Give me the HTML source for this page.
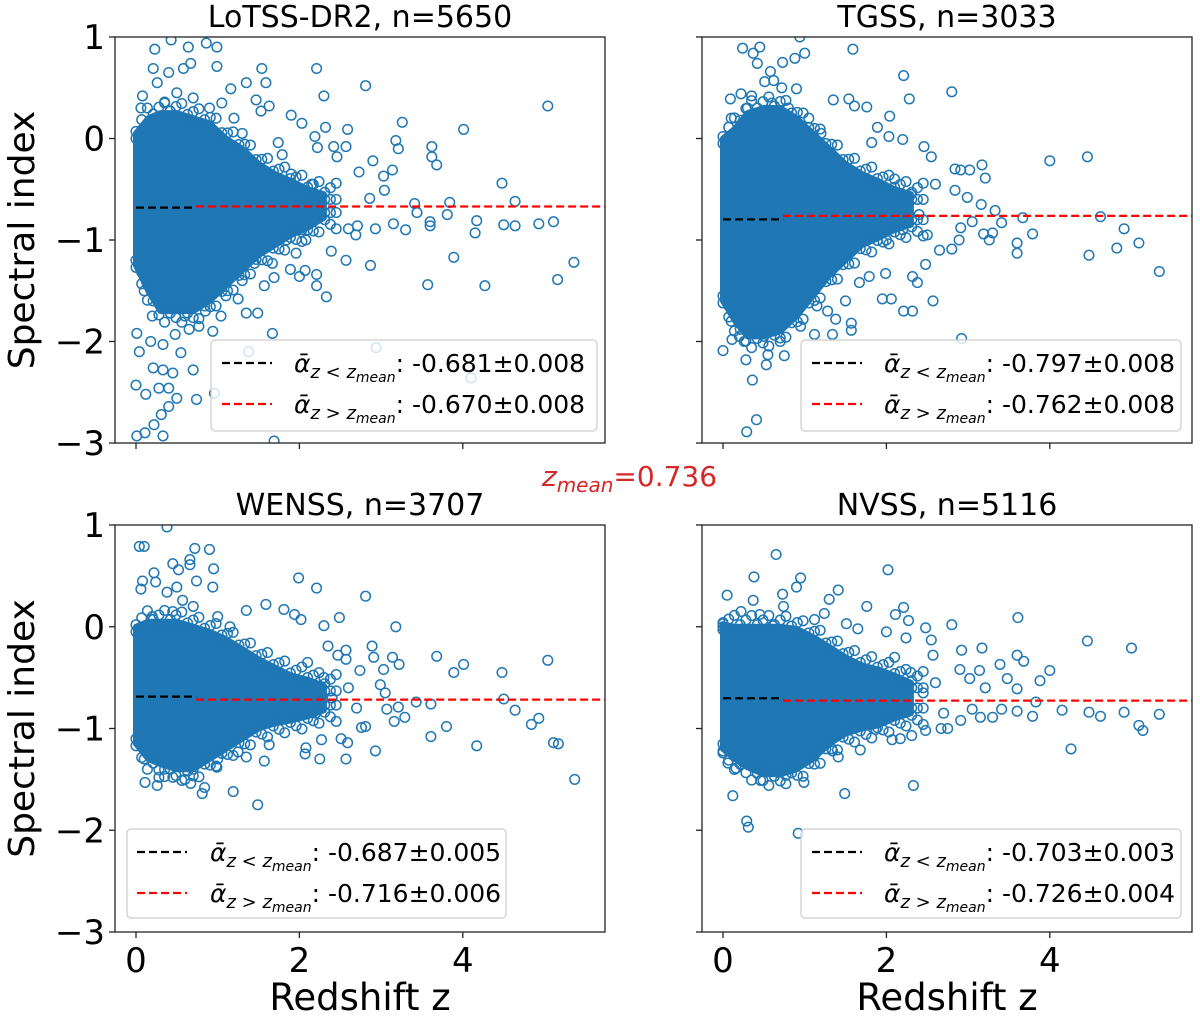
<!DOCTYPE html>
<html><head><meta charset="utf-8">
<style>
html,body{margin:0;padding:0;background:#fff;}
svg{display:block;font-family:"DejaVu Sans","Liberation Sans",sans-serif;}
</style></head>
<body>
<svg id="fig" width="1200" height="1020" viewBox="0 0 1200 1020" xmlns="http://www.w3.org/2000/svg">
<text x="542" y="486" fill="#d62728" font-size="28"><tspan font-style="italic">z</tspan><tspan font-style="italic" font-size="20" dy="6">mean</tspan><tspan dy="-6">=0.736</tspan></text>
</svg>
<script>
const panelTitles = ["LoTSS-DR2, n=5650","TGSS, n=3033","WENSS, n=3707","NVSS, n=5116"];
const yTickVals = [1,0,-1,-2,-3];
const yTickLabels = ["1","0","\u22121","\u22122","\u22123"];
const xTickVals = [0,2,4];
const xTickLabels = ["0","2","4"];
const zMean = 0.736;
const meanLow = [-0.681,-0.797,-0.687,-0.703];
const meanHigh = [-0.670,-0.762,-0.716,-0.726];
const legendLow = ["-0.681\u00b10.008","-0.797\u00b10.008","-0.687\u00b10.005","-0.703\u00b10.003"];
const legendHigh = ["-0.670\u00b10.008","-0.762\u00b10.008","-0.716\u00b10.006","-0.726\u00b10.004"];

const coreZ = [0,0.15,0.3,0.5,0.7,0.9,1.1,1.3,1.5,1.7,1.9,2.1,2.3];
const coreLo = [
 [-1.25,-1.5,-1.7,-1.7,-1.7,-1.6,-1.45,-1.3,-1.15,-1.05,-0.95,-0.88,-0.78],
 [-1.6,-1.8,-1.95,-1.95,-1.9,-1.75,-1.55,-1.35,-1.2,-1.05,-0.98,-0.9,-0.85],
 [-1.15,-1.3,-1.35,-1.4,-1.4,-1.3,-1.2,-1.1,-1.0,-0.95,-0.92,-0.88,-0.82],
 [-1.2,-1.3,-1.38,-1.45,-1.45,-1.4,-1.3,-1.15,-1.05,-1.0,-0.97,-0.9,-0.85]];
const coreHi = [
 [0.05,0.2,0.25,0.25,0.2,0.15,0.0,-0.1,-0.25,-0.35,-0.42,-0.5,-0.55],
 [0.0,0.1,0.25,0.3,0.3,0.2,0.05,-0.1,-0.25,-0.35,-0.42,-0.5,-0.55],
 [0.0,0.05,0.05,0.05,0.0,-0.05,-0.12,-0.22,-0.32,-0.4,-0.48,-0.52,-0.58],
 [0.02,0.0,0.0,0.0,0.0,-0.02,-0.1,-0.2,-0.3,-0.38,-0.42,-0.48,-0.55]];

const tlPoints = [[5.04,0.32],[4.01,0.09],[3.26,0.16],[3.18,-0.02],[3.21,-0.10],[3.62,-0.08],[3.62,-0.18],[3.68,-0.26],[4.48,-0.44],[4.64,-0.62],[3.84,-0.63],[3.81,-0.75],[3.6,-0.82],[3.6,-0.86],[3.3,-0.9],[4.17,-0.81],[4.15,-0.93],[4.5,-0.85],[4.64,-0.86],[4.93,-0.84],[5.11,-0.82],[3.89,-1.17],[5.36,-1.22],[5.16,-1.39],[4.27,-1.45],[3.57,-1.44],[4.1,-2.36],[2.94,-2.06],[2.87,-1.25],[2.57,-1.2],[2.39,-1.11],[2.33,-1.56],[2.21,-1.45],[2.21,-1.34],[2.07,-1.30],[2.0,-1.36],[1.67,-1.92],[1.38,-2.1],[1.69,-2.98],[0.96,-2.51],[2.81,0.52],[2.21,0.69],[2.3,0.42],[1.9,0.23],[2.03,0.15],[2.32,0.11],[2.59,0.09],[2.19,0.02],[2.22,-0.09],[2.42,-0.08],[2.57,-0.08],[2.46,-0.18],[2.9,-0.22],[2.73,-0.33],[3.14,-0.31],[3.03,-0.37],[3.04,-0.51],[2.86,-0.59],[3.41,-0.64],[3.44,-0.73],[3.15,-0.84],[2.93,-0.89],[2.71,-0.86],[2.6,-0.89],[2.69,-0.95],[1.54,0.69],[1.59,0.55],[1.35,0.55],[1.16,0.49],[1.47,0.38],[1.63,0.32],[1.53,0.27],[1.74,-0.04],[1.79,-0.16],[0.99,0.71],[0.99,0.9],[0.86,0.94],[0.64,0.9],[0.43,0.97],[0.23,0.88],[0.21,0.69],[0.67,0.74],[0.58,0.69],[0.4,0.65],[0.26,0.55],[0.08,0.42],[0.06,0.3],[0,-2.43],[0.01,-2.93],[0.11,-2.9],[0.33,-2.93],[0.22,-2.82],[0.31,-2.72],[0.4,-2.64],[0.5,-2.56],[0.74,-2.57],[0.12,-2.52],[0.28,-2.46],[0.4,-2.46],[0.21,-2.26],[0.33,-2.28],[0.45,-2.31],[0.7,-2.28],[0.55,-2.11],[0.01,-1.92],[0.04,-2.1],[0.18,-2.0],[0.33,-2.03],[0.48,-1.93],[0.65,-1.88],[0.77,-1.85],[0.94,-1.9],[1.04,-1.75],[1.35,-1.72],[1.49,-1.72],[1.25,-1.58],[1.57,-1.45],[1.69,-1.37],[1.89,-1.29],[1.96,-1.13],[1.67,-1.23],[1.45,-1.23],[1.84,-1.0],[2.08,-1.0],[2.03,-0.9],[1.9,-0.35],[2.0,-0.55],[2.1,-0.75],[1.8,-0.8],[2.15,-0.45],[0.35,0.35],[0.5,0.45],[0.7,0.4],[0.9,0.3],[1.05,0.35],[1.2,0.2],[1.3,0.05],[0.1,-1.5],[0.2,-1.75],[0.6,-1.75],[0.85,-1.7],[1.1,-1.55],[1.3,-1.4]];

const trPoints = [[4.0,-0.22],[4.46,-0.18],[4.62,-0.77],[4.91,-0.89],[5.09,-1.03],[4.82,-1.08],[4.48,-1.15],[5.34,-1.31],[3.79,-0.94],[3.67,-0.78],[3.6,-1.03],[3.6,-1.13],[3.41,-0.83],[3.33,-0.71],[3.3,-0.93],[3.26,-1.0],[3.19,-0.94],[3.21,-0.39],[3.17,-0.26],[3.02,-0.31],[2.91,-0.31],[2.84,-0.3],[2.84,-0.51],[2.99,-0.58],[3.16,-0.65],[3.05,-0.82],[2.91,-0.88],[2.89,-1.0],[2.8,-1.09],[2.65,-1.1],[2.92,-1.97],[2.57,-1.6],[2.32,-1.7],[2.21,-1.7],[2.06,-1.58],[1.95,-1.58],[2.48,-1.24],[2.8,0.46],[2.21,0.62],[2.28,0.39],[2.04,0.22],[1.76,0.31],[1.61,0.32],[1.54,0.39],[1.35,0.38],[1.89,0.11],[2.03,0.02],[2.2,-0.01],[2.46,-0.08],[2.55,-0.18],[1.82,-0.04],[1.59,0.88],[0.94,1.0],[1.0,0.84],[0.88,0.79],[0.73,0.75],[0.45,0.9],[0.24,0.89],[0.37,0.84],[0.42,0.74],[0.58,0.66],[0.62,0.57],[0.51,0.56],[0.72,0.5],[0.9,0.49],[0.09,0.39],[0.22,0.44],[0.35,0.42],[0,-2.09],[0.11,-1.98],[0.26,-2.0],[0.28,-2.18],[0.36,-2.38],[0.41,-2.77],[0.29,-2.89],[0.53,-2.23],[0.75,-2.14],[0.55,-2.13],[1.12,-1.93],[1.34,-1.93],[1.57,-1.89],[1.57,-1.82],[1.5,-1.6],[1.38,-1.78],[1.28,-1.7],[1.67,-1.42],[1.79,-1.36],[1.99,-1.33],[2.32,-1.36],[2.38,-1.42],[2.1,-0.4],[2.3,-0.55],[2.4,-0.75],[2.2,-0.9],[2.0,-1.0],[2.6,-0.45],[2.5,-0.95],[0.1,0.2],[0.3,0.3],[0.6,0.35],[0.8,0.3],[1.05,0.2],[1.2,0.05],[0.1,-1.8],[0.2,-1.95],[0.5,-1.95],[0.7,-2.0],[0.95,-1.85],[1.15,-1.65]];

const blPoints = [[0.38,0.98],[0.04,0.79],[0.1,0.79],[0.08,0.45],[0.06,0.37],[0.22,0.53],[0.24,0.44],[0.45,0.62],[0.52,0.56],[0.66,0.66],[0.66,0.61],[0.72,0.77],[0.9,0.76],[0.95,0.57],[0.94,0.39],[0.74,0.45],[0.5,0.39],[0.38,0.34],[0.57,0.26],[1.99,0.48],[2.21,0.38],[2.81,0.3],[2.49,0.09],[2.3,0.01],[3.18,0.0],[2.02,0.07],[1.94,0.12],[1.81,0.17],[1.59,0.22],[1.35,0.16],[3.68,-0.29],[4.01,-0.37],[3.89,-0.45],[4.48,-0.45],[5.04,-0.33],[4.5,-0.71],[4.64,-0.82],[4.93,-0.9],[4.84,-0.96],[3.61,-0.76],[3.43,-0.74],[3.8,-0.98],[3.61,-1.08],[4.17,-1.17],[5.11,-1.14],[5.17,-1.15],[5.37,-1.5],[3.29,-0.89],[3.16,-0.93],[3.21,-0.79],[3.07,-0.81],[2.93,-1.22],[2.76,-0.99],[2.81,-0.98],[2.57,-1.3],[2.59,-1.14],[2.51,-1.1],[2.74,-0.43],[2.89,-0.19],[2.91,-0.3],[3.03,-0.42],[3.14,-0.3],[3.22,-0.37],[2.99,-0.57],[3.05,-0.65],[2.57,-0.23],[2.57,-0.32],[2.47,-0.28],[2.35,-0.19],[2.25,-1.3],[2.07,-1.25],[2.27,-1.11],[2.08,-1.19],[1.49,-1.75],[1.19,-1.62],[0.81,-1.64],[0.84,-1.58],[0.67,-1.54],[0.6,-1.5],[0.26,-1.56],[0.11,-1.53],[0.28,-1.48],[0.45,-1.48],[0.99,-1.38],[1.57,-1.32],[1.35,-1.28],[1.25,-1.23],[1.63,-1.16],[2.1,-0.35],[2.3,-0.5],[2.4,-0.7],[2.2,-0.85],[2.6,-0.6],[2.7,-0.8],[0.2,0.1],[0.45,0.15],[0.7,0.2],[1.0,0.1],[1.15,0.0],[0.1,-1.3],[0.35,-1.4],[0.7,-1.4],[1.0,-1.3]];

const brPoints = [[0.65,0.71],[2.02,0.56],[0.38,0.49],[0.05,0.31],[0.37,0.26],[0.73,0.32],[0.74,0.2],[0.9,0.39],[0.95,0.48],[1.3,0.27],[1.41,0.36],[1.76,0.2],[2.21,0.19],[2.11,0.12],[2.27,0.06],[2.48,-0.01],[2.8,0.02],[3.61,0.09],[4.46,-0.14],[5.0,-0.21],[2.92,-0.23],[3.17,-0.21],[2.57,-0.28],[2.55,-0.13],[3.39,-0.37],[3.6,-0.28],[3.68,-0.34],[4.0,-0.43],[3.88,-0.53],[3.48,-0.51],[3.14,-0.43],[3.02,-0.51],[2.9,-0.42],[3.21,-0.6],[3.6,-0.61],[3.83,-0.74],[3.41,-0.81],[3.6,-0.83],[4.15,-0.82],[4.48,-0.84],[4.62,-0.88],[4.91,-0.84],[5.34,-0.86],[5.09,-0.97],[5.14,-1.02],[4.26,-1.2],[3.79,-0.88],[3.15,-0.89],[3.3,-0.89],[3.05,-0.81],[2.91,-0.92],[2.75,-1.0],[2.67,-1.0],[2.48,-1.02],[2.33,-1.56],[1.49,-1.64],[1.68,-1.21],[2.07,-1.11],[2.17,-1.1],[2.31,-1.07],[1.87,-1.01],[1.41,-1.28],[1.34,-1.22],[1.11,-1.27],[0.99,-1.53],[0.92,-2.03],[0.46,-1.51],[0.12,-1.66],[0.29,-1.91],[0.31,-1.97],[0.0,-1.24],[0.06,-1.34],[0.16,-1.39],[0.51,-1.37],[0.77,-1.46],[0.68,-1.43],[0.0,0.03],[0,0],[0.22,0.15],[0.45,0.12],[0.61,0.01],[1.12,0.07],[1.24,0.13],[1.65,-0.02],[1.51,0.03],[2.0,-0.05],[2.24,-0.11],[2.1,-0.3],[2.3,-0.45],[2.45,-0.65],[2.2,-0.8],[2.0,-0.9],[2.6,-0.55],[2.7,-0.85]];

const allPoints = [tlPoints, trPoints, blPoints, brPoints];

const NS = "http://www.w3.org/2000/svg";
const svg = document.getElementById('fig');
const BLUE = "#1f77b4";
function mk(tag, attrs, parent){ const e=document.createElementNS(NS,tag); for(const k in attrs) e.setAttribute(k,attrs[k]); (parent||svg).appendChild(e); return e; }
function interp(arrZ, arrV, z){
  if(z<=arrZ[0]) return arrV[0];
  for(let k=1;k<arrZ.length;k++){ if(z<=arrZ[k]){ const t=(z-arrZ[k-1])/(arrZ[k]-arrZ[k-1]); return arrV[k-1]+t*(arrV[k]-arrV[k-1]); } }
  return arrV[arrV.length-1];
}

const panels = [
 {x0:136, top:37, bot:443, showY:true, showX:false, leg:{x:211,y:340,w:386,h:91,lx:222,tx:294}},
 {x0:723, top:37, bot:443, showY:false, showX:false, leg:{x:801,y:340,w:380,h:91,lx:812,tx:884}},
 {x0:136, top:525, bot:932, showY:true, showX:true, leg:{x:127,y:829,w:379,h:89,lx:137,tx:210}},
 {x0:723, top:525, bot:932, showY:false, showX:true, leg:{x:801,y:829,w:380,h:89,lx:812,tx:884}}
];
const names = ["lotss","tgss","wenss","nvss"];

panels.forEach((p,i)=>{
  const pxPerZ = 81.7;
  const left = p.x0-21, right = p.x0+469;
  const xs = z => p.x0 + z*pxPerZ;
  const ys = a => p.top + (1-a)*(p.bot-p.top)/4;
  const g = mk('g',{});
  
  
  const clipId='clip'+i;
  const cp = mk('clipPath',{id:clipId},g);
  mk('rect',{x:left,y:p.top,width:right-left,height:p.bot-p.top},cp);
  const plot = mk('g',{'clip-path':'url(#'+clipId+')'},g);
  
  
  let d='';
  coreZ.forEach((z,k)=>{ d += (k?'L':'M')+xs(z).toFixed(1)+','+ys(coreHi[i][k]).toFixed(1); });
  for(let k=coreZ.length-1;k>=0;k--) d += 'L'+xs(coreZ[k]).toFixed(1)+','+ys(coreLo[i][k]).toFixed(1);
  d+='Z';
  const core = mk('path',{d:d,fill:BLUE,stroke:BLUE,'stroke-width':6,'stroke-linejoin':'round'},plot);
  
  
  const zEnd = coreZ[coreZ.length-1];
  let n=0;
  for(let z=0; z<=zEnd+0.2; z+=0.07){
    const lo = interp(coreZ, coreLo[i], z), hi = interp(coreZ, coreHi[i], z);
    const off = (n%3)*0.045;
    [[hi+0.02+off],[lo-0.02-off],[hi-0.05],[lo+0.05]].forEach(v=>{
      const c = mk('circle',{cx:xs(z).toFixed(1),cy:ys(v[0]).toFixed(1),r:4.8,fill:'none',stroke:BLUE,'stroke-width':1.5},plot);
      
      
    });
    n++;
  }
  allPoints[i].forEach(pt=>{
    const c = mk('circle',{cx:xs(pt[0]).toFixed(1),cy:ys(pt[1]).toFixed(1),r:4.8,fill:'none',stroke:BLUE,'stroke-width':1.5},plot);
    
    
  });
  const l1 = mk('line',{x1:xs(0),x2:xs(zMean),y1:ys(meanLow[i]),y2:ys(meanLow[i]),stroke:'#000','stroke-width':2.2,'stroke-dasharray':'8,4'},plot);
  
  
  const l2 = mk('line',{x1:xs(zMean),x2:right,y1:ys(meanHigh[i]),y2:ys(meanHigh[i]),stroke:'#ff0000','stroke-width':2.2,'stroke-dasharray':'8,4'},plot);
  
  
  const fr = mk('rect',{x:left,y:p.top,width:right-left,height:p.bot-p.top,fill:'none',stroke:'#222','stroke-width':1.3},g);
  
  
  yTickVals.forEach((v,k)=>{
    mk('line',{x1:left-6,x2:left,y1:ys(v),y2:ys(v),stroke:'#222','stroke-width':1.3},g);
    if(p.showY){
      const t = mk('text',{x:left-10,y:ys(v)+12,'text-anchor':'end','font-size':34,fill:'#000'},g);
      t.textContent = yTickLabels[k];
      
      
    }
  });
  xTickVals.forEach((v,k)=>{
    mk('line',{x1:xs(v),x2:xs(v),y1:p.bot,y2:p.bot+6,stroke:'#222','stroke-width':1.3},g);
    if(p.showX){
      const t = mk('text',{x:xs(v),y:p.bot+40,'text-anchor':'middle','font-size':34,fill:'#000'},g);
      t.textContent = xTickLabels[k];
      
      
    }
  });
  const cx = (left+right)/2;
  const tt = mk('text',{x:cx,y:p.top-10,'text-anchor':'middle','font-size':30,fill:'#000'},g);
  tt.textContent = panelTitles[i];
  
  
  if(p.showY){
    const yl = mk('text',{x:0,y:0,'text-anchor':'middle','font-size':36,fill:'#000',transform:'translate(34,'+((p.top+p.bot)/2)+') rotate(-90)'},g);
    yl.textContent='Spectral index';
    
    
  }
  if(p.showX){
    const xl = mk('text',{x:cx,y:1010,'text-anchor':'middle','font-size':37,fill:'#000'},g);
    xl.textContent='Redshift z';
    
    
  }
  const L = p.leg;
  const lg = mk('g',{},g);
  
  
  mk('rect',{x:L.x,y:L.y,width:L.w,height:L.h,rx:4,fill:'#fff','fill-opacity':0.8,stroke:'#cccccc','stroke-width':1.2},lg);
  const rows=[[legendLow[i],'#000','<'],[legendHigh[i],'#ff0000','>']];
  rows.forEach((r,k)=>{
    const yy = L.y + 23 + k*41;
    mk('line',{x1:L.lx,x2:L.lx+50,y1:yy,y2:yy,stroke:r[1],'stroke-width':2.2,'stroke-dasharray':'8,4'},lg);
    const t = mk('text',{x:L.tx,y:yy+9,'font-size':25,fill:'#000'},lg);
    
    
    t.innerHTML = '<tspan font-style="italic">\u03b1\u0304</tspan><tspan font-style="italic" font-size="18" dy="6">z '+(r[2]==='<'?'&lt;':'&gt;')+' z</tspan><tspan font-style="italic" font-size="14" dy="4">mean</tspan><tspan dy="-10">: '+r[0]+'</tspan>';
  });
});
</script>
</body></html>
